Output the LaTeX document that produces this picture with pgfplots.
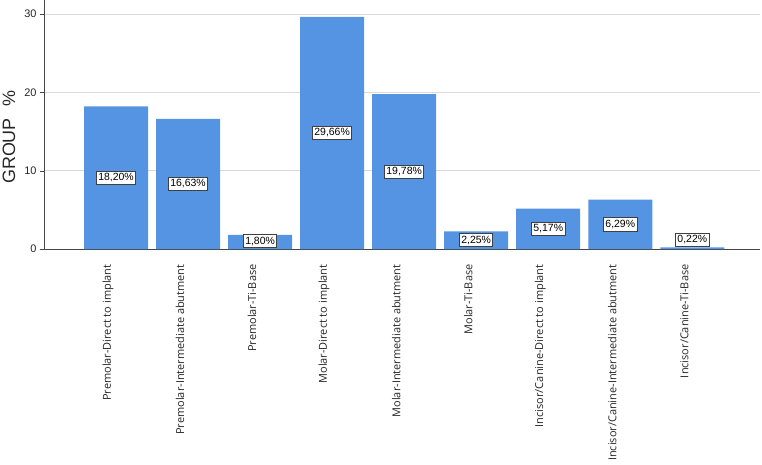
\documentclass[border=0pt]{standalone}
\usepackage{pgfplots}
\pgfplotsset{compat=1.18}
\usepackage{fontspec}
\setmainfont{Liberation Sans}
\newfontfamily\lblfont{Open Sans}
\definecolor{barblue}{RGB}{85,148,226}
\definecolor{gridgray}{RGB}{217,217,217}
\definecolor{axisgray}{RGB}{70,70,70}
\begin{document}
\begin{tikzpicture}
\useasboundingbox (-44bp,-216bp) rectangle (718bp,249bp);
\begin{axis}[
  at={(0,0)}, anchor=south west,
  scale only axis, width=716bp, height=249bp,
  xmin=-1, xmax=8.94, ymin=0, ymax=31.8,
  axis lines=left, axis line style={axisgray, -},
  ytick={0,10,20,30},
  ymajorgrids, grid style={gridgray, line width=0.8pt},
  xtick={0,...,8},
  xticklabels={Premolar-Direct to implant, Premolar-Intermediate abutment, Premolar-Ti-Base, Molar-Direct to implant, Molar-Intermediate abutment, Molar-Ti-Base, Incisor/Canine-Direct to implant, Incisor/Canine-Intermediate abutment, Incisor/Canine-Ti-Base},
  xticklabel style={rotate=90, anchor=east, font=\lblfont\fontsize{11}{13}\selectfont, text=black!85, xshift=-8bp, yshift=8bp},
  x tick style={draw=none},
  y tick style={axisgray},
  major tick length=4bp,
  tick align=outside,
  yticklabel style={font=\fontsize{11}{12}\selectfont, text=black!85},
  /pgf/number format/assume math mode=true,
  clip=false,
]
\addplot[ybar, bar width=64bp, bar shift=0pt, fill=barblue, draw=none] coordinates {
  (0,18.20) (1,16.63) (2,1.80) (3,29.66) (4,19.78) (5,2.25) (6,5.17) (7,6.29) (8,0.22)
};
\addplot[draw=none, mark=none, nodes near coords, point meta=explicit symbolic,
  nodes near coords style={anchor=center, fill=white, draw=black!75, line width=0.7pt,
    inner xsep=1.8bp, inner ysep=2.2bp, font=\fontsize{10.5}{12}\selectfont, text=black}]
  table[meta=lab] {
x y lab
0 9.10 18,20\%
1 8.32 16,63\%
2 1.0 1,80\%
3 14.83 29,66\%
4 9.89 19,78\%
5 1.12 2,25\%
6 2.59 5,17\%
7 3.15 6,29\%
8 1.15 0,22\%
};
\end{axis}
\node[rotate=90, font=\fontsize{18}{20}\selectfont, text=black!85] at (-35bp,112bp) {GROUP\hspace{12bp}\%};
\end{tikzpicture}
\end{document}
